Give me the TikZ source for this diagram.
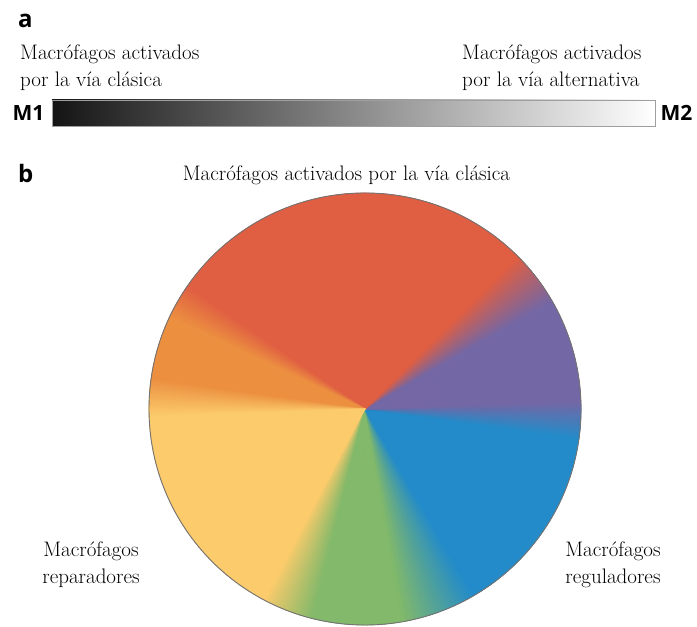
\documentclass[tikz,border=0pt]{standalone}
\usepackage{fontspec}
\newfontfamily\panelfont{Open Sans}
\usepackage{tikz}
\usetikzlibrary{positioning}
\definecolor{cred}{HTML}{E05E42}
\definecolor{cpur}{HTML}{7467A5}
\definecolor{cblu}{HTML}{238BC9}
\definecolor{cgrn}{HTML}{82B96A}
\definecolor{cyel}{HTML}{FCCB6B}
\definecolor{cora}{HTML}{EC9040}
\tikzset{
  lbl/.style={inner sep=0pt, font=\fontsize{21}{27}\selectfont},
  panel/.style={inner sep=0pt, font=\panelfont\bfseries\fontsize{24}{28}\selectfont},
  pole/.style={inner sep=0pt, font=\panelfont\bfseries\fontsize{21}{24}\selectfont}
}
\begin{document}
\begin{tikzpicture}[x=1pt, y=1pt, node distance=6pt]
        \useasboundingbox (0,0) rectangle (697,627);
        \node[panel, anchor=base west] (pa) at (18,599) {a};
        \node[lbl, anchor=base west, align=left] (classL) at (20,540) {Macrófagos activados\\por la vía clásica};
        \node[lbl, anchor=base west, align=left] (altR) at (462,540) {Macrófagos activados\\por la vía alternativa};
        \node[draw=gray!75, line width=0.8pt, shade, left color=black!92, right color=white,
              minimum width=603, minimum height=26, inner sep=0pt] (bar) at (353.5,514) {};
        \node[pole] (m1) [left = 7pt of bar] {M1};
        \node[pole] (m2) [right = 5pt of bar] {M2};

        \node[panel, anchor=base west] (pb) at (18,444) {b};
        \node[lbl, anchor=base] (title) at (346.5,446) {Macrófagos activados por la vía clásica};

        \coordinate (ctr) at (365,218);
        \fill[cred] (ctr) circle[radius=216];
        \foreach \angA/\angB/\colA/\colB in {-118/-104/cyel/cgrn, -104/-80/cgrn/cgrn, -80/-60/cgrn/cblu,
            -60/-8/cblu/cblu, -8/2/cblu/cpur, 2/30/cpur/cpur, 30/45/cpur/cred, 45/145/cred/cred,
            145/155/cred/cora, 155/172/cora/cora, 172/182/cora/cyel, 182/242/cyel/cyel}{
          \foreach \k in {0,...,19}{
            \pgfmathsetmacro\sA{\angA+(\angB-\angA)*\k/20}
            \pgfmathsetmacro\sB{\angA+(\angB-\angA)*(\k+1)/20+0.3}
            \pgfmathtruncatemacro\pc{5*\k+2.5}
            \filldraw[\colB!\pc!\colA, line width=0.6pt, line join=round]
              (ctr) -- ++(\sA:216) arc[start angle=\sA, end angle=\sB, radius=216] -- cycle;
          }
        }
        \draw[black!55, line width=0.9pt] (ctr) circle[radius=216];

        \node[lbl, anchor=base, align=center] (repar) at (91,43) {Macrófagos\\reparadores};
        \node[lbl, anchor=base, align=center] (regul) at (613,43) {Macrófagos\\reguladores};
      \end{tikzpicture}
\end{document}
